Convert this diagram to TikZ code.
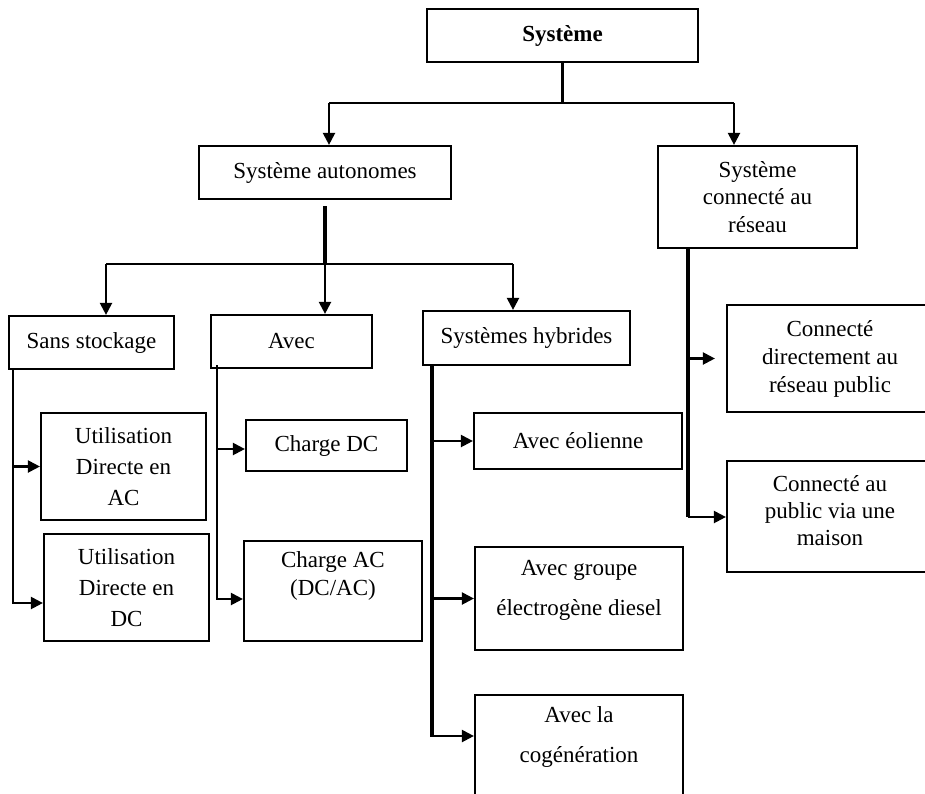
\documentclass[tikz,border=0pt]{standalone}
\usepackage{fontspec}
\setmainfont{Liberation Serif}
\usetikzlibrary{arrows.meta, positioning}

\begin{document}
\begin{tikzpicture}[x=0.5pt, y=-0.5pt, font=\fontsize{11.5}{14}\selectfont, >={Triangle[length=6pt, width=6pt]},
    box/.style = {draw, rectangle, line width=1.1pt, align=center, inner sep=2pt},
    lead/.style = {font=\fontsize{11.5}{#1}\selectfont},
    link/.style = {line width=1.1pt}, rail/.style = {line width=1.8pt}]
    \useasboundingbox (0,0) rectangle (925,793);
    \clip (0,0) rectangle (925,793);
    \node[box, minimum width=135.5pt, minimum height=26.5pt, font=\fontsize{11.5}{14}\selectfont\bfseries] (sys) at (562.5,35.5) {Système};
    \node[box, minimum width=126pt, minimum height=26.5pt] (auto) at (325,172.5) {Système autonomes};
    \node[box, lead=13.75pt, minimum width=99.5pt, minimum height=51pt] (conn) at (757.5,197) {Système\\connecté au\\réseau};
    \node[box, minimum width=82.5pt, minimum height=26.5pt] (sans) at (91.5,342.5) {Sans stockage};
    \node[box, minimum width=80.5pt, minimum height=26.5pt] (avec) at (291.5,341.5) {Avec};
    \node[box, minimum width=103.5pt, minimum height=27pt] (hyb) at (526.5,338) {Systèmes hybrides};
    \node[box, lead=15.5pt, minimum width=82.5pt, minimum height=53.5pt] (utilAC) at (123.5,466.5) {Utilisation\\Directe en\\AC};
    \node[box, lead=15.5pt, minimum width=82.5pt, minimum height=53.5pt] (utilDC) at (126.5,587.5) {Utilisation\\Directe en\\DC};
    \node[box, minimum width=80.5pt, minimum height=25.5pt] (chDC) at (326.5,445.5) {Charge DC};
    \node[box, lead=14pt, minimum width=89pt, minimum height=50pt] (chAC) at (333,591) {Charge AC\\(DC/AC)\rule[-17.5pt]{0pt}{0pt}};
    \node[box, minimum width=104pt, minimum height=28pt] (eol) at (578,441) {Avec éolienne};
    \node[box, lead=20pt, minimum width=104pt, minimum height=51.5pt] (diesel) at (579,598.5) {Avec groupe\\électrogène diesel\rule[-11pt]{0pt}{0pt}};
    \node[box, lead=20pt, minimum width=104pt, minimum height=52.5pt] (cogen) at (579,747.5) {Avec la\\cogénération\rule[-13pt]{0pt}{0pt}};
    \node[box, lead=14pt, minimum width=103pt, minimum height=53.5pt] (connDir) at (830,358.5) {Connecté\\directement au\\réseau public};
    \node[box, lead=13.5pt, minimum width=103pt, minimum height=55.5pt] (connPub) at (830,516.5) {Connecté au\\public via une\\maison\rule[-6.5pt]{0pt}{0pt}};
    \coordinate (jSys) at (562.5,103); \coordinate (bAuto) at (329,103); \coordinate (bConn) at (734,103);
    \draw[link] (sys) -- (jSys); \draw[link] (bAuto) -- (bConn);
    \draw[link, ->] (bAuto) -- (bAuto |- auto.north); \draw[link, ->] (bConn) -- (bConn |- conn.north);
    \coordinate (jAuto) at (325,264); \coordinate (bSans) at (106,264); \coordinate (bHyb) at (513,264);
    \draw[rail, shorten <=3pt] (auto) -- (jAuto); \draw[link] (bSans) -- (bHyb);
    \draw[link, ->] (bSans) -- (bSans |- sans.north); \draw[link, ->] (jAuto) -- (jAuto |- avec.north); \draw[link, ->] (bHyb) -- (bHyb |- hyb.north);
    \coordinate (rSans) at (13,369); \coordinate (eSans) at (13,603);
    \draw[link, ->] (rSans) -- (eSans) -- (eSans -| utilDC.west); \draw[link, ->] (rSans |- utilAC.west) -- (utilAC.west);
    \coordinate (rAvec) at (217,365); \coordinate (eAvec) at (217,599); \coordinate (aDC) at (217,449);
    \draw[link, ->] (rAvec) -- (eAvec) -- (eAvec -| chAC.west); \draw[link, ->] (aDC) -- (aDC -| chDC.west);
    \coordinate (rHyb) at (432,365); \coordinate (eHyb) at (432,736);
    \draw[rail] (rHyb) -- (eHyb); \draw[link, ->] ([xshift=-1pt]eHyb) -- (eHyb -| cogen.west);
    \draw[link, ->] (rHyb |- eol.west) -- (eol.west); \draw[link, ->] (rHyb |- diesel.west) -- (diesel.west);
    \coordinate (rConn) at (688,248); \coordinate (eConn) at (688,517);
    \draw[rail] (rConn) -- (eConn); \draw[link, ->] (eConn) -- (eConn -| connPub.west);
    \draw[link, ->, shorten >=5.5pt] (rConn |- connDir.west) -- (connDir.west);
\end{tikzpicture}
\end{document}
